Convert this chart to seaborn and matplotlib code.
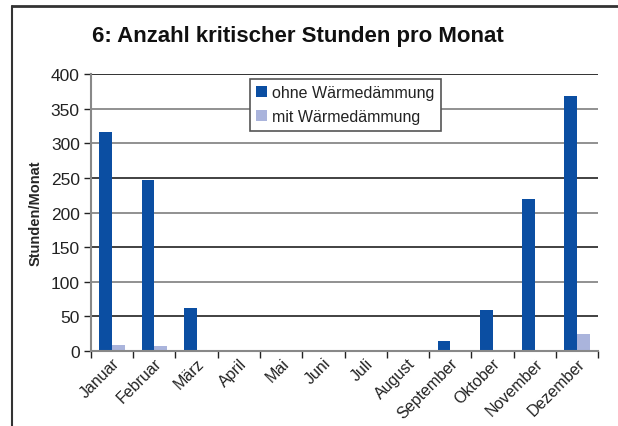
import matplotlib
matplotlib.use("Agg")
import matplotlib.pyplot as plt
import seaborn as sns
import pandas as pd
from matplotlib.lines import Line2D
from matplotlib.ticker import FixedLocator

months = ["Januar", "Februar", "März", "April", "Mai", "Juni", "Juli",
          "August", "September", "Oktober", "November", "Dezember"]
ohne = [316, 247, 62, 0, 0, 0, 0, 0, 14, 59, 220, 368]
mit = [9, 7, 0, 0, 0, 0, 0, 0, 0, 0, 0, 24]
series_names = ["ohne Wärmedämmung", "mit Wärmedämmung"]
colors = ["#0b4ea2", "#aab4dc"]
title = "6: Anzahl kritischer Stunden pro Monat"
ylabel = "Stunden/Monat"

df = pd.DataFrame({
    "Monat": months * 2,
    "Stunden": ohne + mit,
    "Serie": [series_names[0]] * len(months) + [series_names[1]] * len(months),
})

sns.set_style("white")
plt.rcParams['font.family'] = ['Liberation Sans', 'DejaVu Sans']

fig = plt.figure(figsize=(6.18, 4.27), dpi=100)
ax = fig.add_axes([0.147, 0.1756, 0.821, 0.6488])

sns.barplot(data=df, x="Monat", y="Stunden", hue="Serie", palette=colors,
            width=0.6, saturation=1, ax=ax, order=months, hue_order=series_names,
            linewidth=0)

ax.set_xlim(-0.5, 11.5)
ax.set_ylim(0, 400)
ax.set_yticks(range(0, 401, 50))
grid_colors = ["#888888", "#333333", "#888888", "#333333", "#888888", "#333333", "#888888", "#888888", "#222222"]
for v, c in zip(range(0, 401, 50), grid_colors):
    if v > 0:
        ax.axhline(v, color=c, lw=1.3, zorder=0)

ax.set_xlabel("")
ax.set_ylabel(ylabel, fontsize=10.5, fontweight="bold", labelpad=6)
ax.tick_params(axis="y", labelsize=12.5, colors="#222222", length=5, width=1, direction="out", left=True, pad=3)
ax.tick_params(axis="x", which="major", length=0, labelsize=11.5, labelcolor="#222222", pad=3)
ax.set_xticks(range(12))
ax.set_xticklabels(months, rotation=45, ha="right", rotation_mode="anchor")
ax.xaxis.set_minor_locator(FixedLocator([i - 0.5 for i in range(13)]))
ax.tick_params(axis="x", which="minor", length=5, width=1, color="#222222", bottom=True, direction="out")
ax.tick_params(axis="y", color="#222222")

for s in ["top", "right"]:
    ax.spines[s].set_visible(False)
for s in ["left", "bottom"]:
    ax.spines[s].set_color("#888888")
    ax.spines[s].set_linewidth(1.5)

leg = ax.legend(loc="upper left", bbox_to_anchor=(0.313, 0.982), borderaxespad=0,
                frameon=True, fontsize=11.5, handlelength=0.7, handleheight=0.7,
                handletextpad=0.3, borderpad=0.4, labelspacing=0.55,
                fancybox=False, framealpha=1)
leg.get_frame().set_edgecolor("#555555")
leg.get_frame().set_linewidth(1.2)
for t in leg.get_texts():
    t.set_color("#222222")

fig.text(0.149, 0.915, title, fontsize=16, fontweight="bold",
         va="center", ha="left", color="#111111")

fig.add_artist(Line2D([12 / 618, 1.0], [1 - 7 / 427, 1 - 7 / 427], color="#333333", lw=2, transform=fig.transFigure))
fig.add_artist(Line2D([12 / 618, 12 / 618], [0, 1 - 7 / 427], color="#333333", lw=1.5, transform=fig.transFigure))

fig.savefig("out.png", dpi=100)
